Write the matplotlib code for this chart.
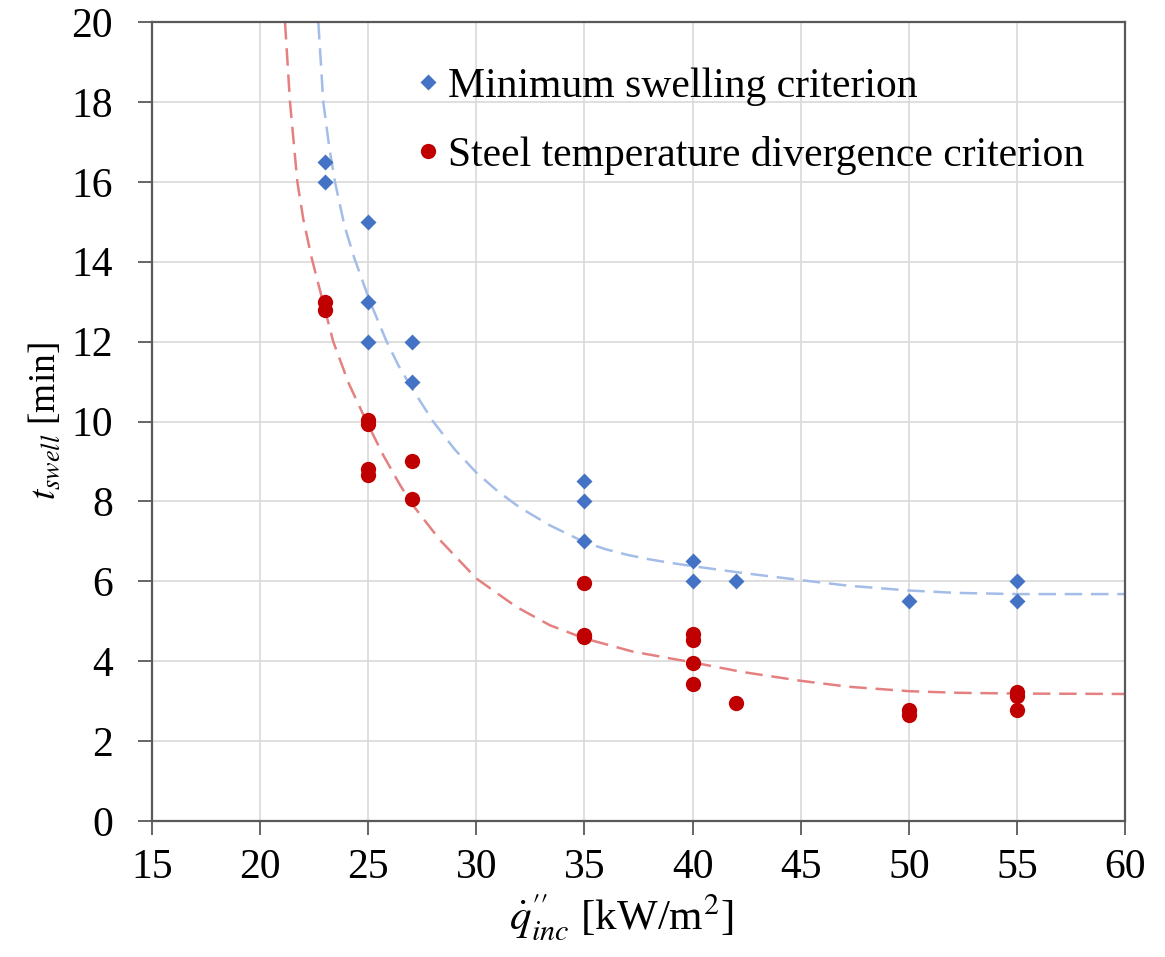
import matplotlib
matplotlib.use("Agg")
import matplotlib.pyplot as plt

plt.rcParams['font.family'] = ['Liberation Serif', 'DejaVu Serif']
plt.rcParams['mathtext.fontset'] = 'stix'

# measured points
min_swell_x = [23, 23, 25, 25, 25, 27, 27, 35, 35, 35, 40, 40, 42, 50, 55, 55]
min_swell_y = [16.5, 16.0, 15.0, 13.0, 12.0, 12.0, 11.0, 8.5, 8.0, 7.0, 6.5, 6.0, 6.0, 5.5, 6.0, 5.5]

steel_x = [23, 23, 25, 25, 25, 25, 27, 27, 35, 35, 35, 40, 40, 40, 40, 42, 50, 50, 55, 55, 55]
steel_y = [13.0, 12.8, 10.05, 9.95, 8.8, 8.65, 9.0, 8.05, 5.95, 4.65, 4.6,
           4.68, 4.53, 3.96, 3.43, 2.96, 2.79, 2.65, 3.22, 3.13, 2.79]

# fitted curves
fit_min_x = [22.69, 22.92, 23.2, 23.46, 23.9, 24.35, 25.08, 25.85, 26.4, 27.0, 28.0, 29.0,
             30.0, 31.0, 32.0, 33.4, 35.0, 36.0, 37.0, 38.0, 39.0, 40.0, 42.3, 45.0, 47.2,
             50.0, 52.2, 55.0, 60.0]
fit_min_y = [20.0, 18.0, 16.85, 16.0, 14.9, 14.1, 13.0, 12.0, 11.4, 10.85, 10.0, 9.3,
             8.72, 8.25, 7.85, 7.4, 6.98, 6.8, 6.66, 6.55, 6.46, 6.38, 6.21, 6.03, 5.89,
             5.77, 5.71, 5.68, 5.68]

fit_steel_x = [21.15, 21.38, 21.72, 22.0, 22.38, 22.92, 23.38, 24.1, 24.92, 25.7, 26.47, 27.0,
               28.32, 30.0, 31.85, 33.4, 35.0, 37.24, 40.0, 42.31, 45.0, 47.23, 50.0, 52.2,
               55.0, 60.0]
fit_steel_y = [20.0, 18.0, 16.0, 15.05, 14.1, 12.96, 12.0, 10.95, 10.0, 9.15, 8.41, 7.95,
               7.03, 6.07, 5.36, 4.9, 4.57, 4.24, 3.97, 3.73, 3.51, 3.36, 3.25, 3.21,
               3.19, 3.18]

fig = plt.figure(figsize=(11.65, 9.57), dpi=100)
ax = fig.add_axes([0.1305, 0.1421, 0.8352, 0.8349])

ax.plot(fit_min_x, fit_min_y, color='#A3BDE8', lw=1.8, dashes=(7, 3.5), zorder=2)
ax.plot(fit_steel_x, fit_steel_y, color='#E58080', lw=1.8, dashes=(7, 3.5), zorder=2)

ax.plot(min_swell_x, min_swell_y, 'D', color='#4472C4', ms=8.5, mec='none', zorder=3,
        label='Minimum swelling criterion')
ax.plot(steel_x, steel_y, 'o', color='#C00000', ms=11, mec='none', zorder=3,
        label='Steel temperature divergence criterion')

ax.set_xlim(15, 60)
ax.set_ylim(0, 20)
ax.set_xticks(range(15, 61, 5))
ax.set_yticks(range(0, 21, 2))
ax.grid(True, color='#D9D9D9', lw=1.2)
ax.set_axisbelow(True)
for s in ax.spines.values():
    s.set_color('#595959')
    s.set_linewidth(1.6)
ax.tick_params(direction='out', length=10, width=1.3, color='#595959', labelsize=30)
ax.tick_params(axis='y', pad=18)
ax.tick_params(axis='x', pad=10)

ax.set_xlabel(r'$\dot{q}^{\prime\prime}_{inc}$ [kW/m$^2$]', fontsize=31)
ax.xaxis.set_label_coords(0.482, -0.088)
ax.set_ylabel(r'$t_{swell}$ [min]', fontsize=27, labelpad=6)

leg = ax.legend(loc='upper left', bbox_to_anchor=(0.266, 0.943), frameon=False,
                fontsize=30, handletextpad=0.1, handlelength=0.8, labelspacing=0.72,
                borderpad=0, borderaxespad=0, markerscale=1.0)

fig.savefig('out.png', dpi=100)
